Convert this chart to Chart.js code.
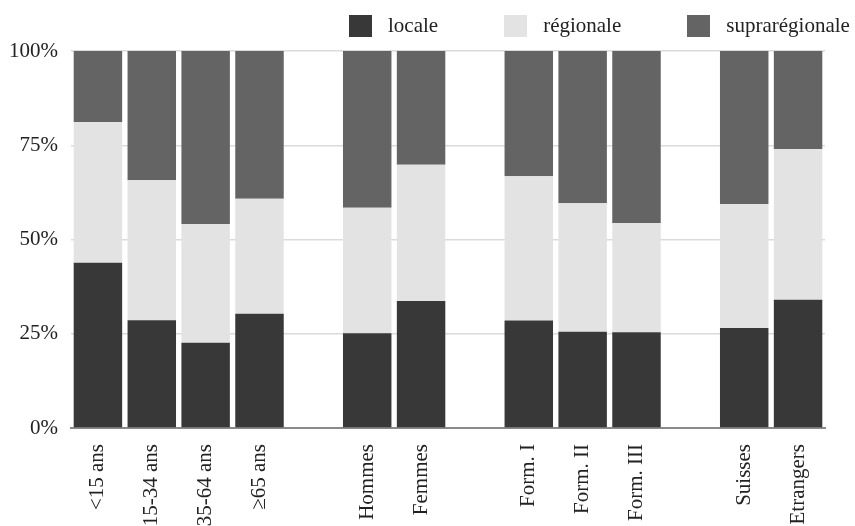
<!DOCTYPE html>
<html lang="fr">
<head>
<meta charset="utf-8">
<title>Portée des déplacements</title>
<script src="https://cdn.jsdelivr.net/npm/chart.js@4.4.1/dist/chart.umd.min.js"></script>
<style>
  html, body { margin: 0; padding: 0; background: #fff; overflow: hidden; }
  #wrap { position: relative; width: 855px; height: 526px; overflow: hidden; }
  #legend {
    position: absolute; left: 349px; top: 13px;
    display: flex; align-items: center; white-space: nowrap;
    font-family: "Liberation Serif", "DejaVu Serif", serif; font-size: 21px; color: #222;
  }
  #legend .item { display: flex; align-items: center; margin-right: 66px; }
  #legend .box { width: 23px; height: 22px; margin-right: 16px; }
</style>
</head>
<body>
<div id="wrap">
  <canvas id="chart" width="855" height="526"></canvas>
  <div id="legend"></div>
</div>
<script>
/* Répartition locale / régionale / suprarégionale par groupe */

// ── Data ─────────────────────────────────────────────────────────────────────
// empty strings are the spacer columns between groups
const categories = ['<15 ans', '15-34 ans', '35-64 ans', '≥65 ans', '',
  'Hommes', 'Femmes', '',
  'Form. I', 'Form. II', 'Form. III', '',
  'Suisses', 'Etrangers'];

const locale         = [43.8, 28.6, 22.6, 30.3, null, 25.1, 33.7, null, 28.5, 25.5, 25.4, null, 26.5, 34.0];
const regionale      = [37.4, 37.1, 31.5, 30.5, null, 33.3, 36.1, null, 38.3, 34.1, 29.0, null, 32.9, 40.0];
const supraregionale = [18.8, 34.3, 45.9, 39.2, null, 41.6, 30.2, null, 33.2, 40.4, 45.6, null, 40.6, 26.0];

const yTicks = [0, 25, 50, 75, 100];

// ── Fonts & colours ──────────────────────────────────────────────────────────
const SERIF = '"Liberation Serif", "DejaVu Serif", serif';
const C_LOCAL = '#383838';
const C_REGIONAL = '#e3e3e3';
const C_SUPRA = '#646464';

Chart.defaults.font.family = SERIF;
Chart.defaults.color = '#222';

// ── Chart ────────────────────────────────────────────────────────────────────
const chart = new Chart(document.getElementById('chart'), {
  type: 'bar',
  data: {
    labels: categories,
    datasets: [
      { label: 'locale', data: locale, backgroundColor: C_LOCAL },
      { label: 'régionale', data: regionale, backgroundColor: C_REGIONAL },
      { label: 'suprarégionale', data: supraregionale, backgroundColor: C_SUPRA },
    ]
  },
  options: {
    responsive: false,
    animation: false,
    layout: { padding: { top: 51, right: 30, left: 0, bottom: 0 } },
    datasets: { bar: { categoryPercentage: 0.9, barPercentage: 1.0 } },
    plugins: {
      tooltip: { enabled: false },
      legend: { display: false }
    },
    scales: {
      x: {
        stacked: true,
        grid: { display: false },
        border: { display: true, color: '#8a8a8a', width: 2 },
        ticks: {
          autoSkip: false,
          minRotation: 90,
          maxRotation: 90,
          padding: 8,
          color: '#222',
          font: { family: SERIF, size: 21 },
        },
        afterFit: s => { s.height = 98; }
      },
      y: {
        stacked: true,
        min: 0,
        max: 100,
        z: 1,
        afterBuildTicks: s => { s.ticks = yTicks.map(v => ({ value: v })); },
        grid: { color: 'rgba(0,0,0,0.14)', lineWidth: 1.5, drawTicks: false },
        border: { display: false },
        ticks: {
          padding: 13,
          color: '#222',
          font: { family: SERIF, size: 21 },
          callback: v => v + '%'
        },
        afterFit: s => { s.width = 71; }
      }
    }
  }
});

// ── HTML legend (built from the datasets) ────────────────────────────────────
document.getElementById('legend').innerHTML = chart.data.datasets.map(d => `
  <span class="item"><span class="box" style="background:${d.backgroundColor}"></span>${d.label}</span>`
).join('');
</script>
</body>
</html>
